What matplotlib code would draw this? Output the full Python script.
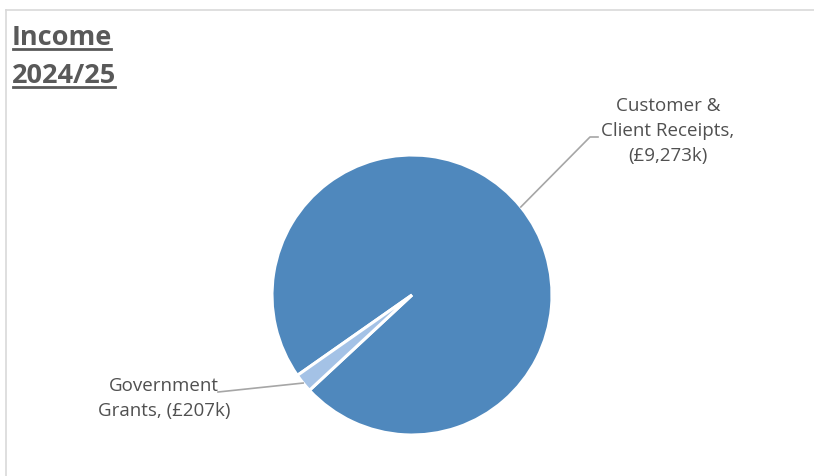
import numpy as np
import matplotlib
matplotlib.use("Agg")
import matplotlib.pyplot as plt
from matplotlib.lines import Line2D

# ---- data ----
categories = ["Customer &\nClient Receipts,", "Government\nGrants,"]
values = [9273, 207]          # £k
value_labels = ["(£9,273k)", "(£207k)"]
colors = ["#4F88BD", "#A4C2E6"]
title_lines = ["Income", "2024/25"]

W, H = 814, 477
fig = plt.figure(figsize=(W / 100, H / 100), dpi=100)
ax = fig.add_axes([0, 0, 1, 1])

cx, cy, r = 412, 181, 140
startangle = 222.9
wedges, _ = ax.pie(values, colors=colors, center=(cx, cy), radius=r,
                   startangle=startangle, counterclock=True,
                   wedgeprops=dict(edgecolor="white", linewidth=2.2))
ax.set_xlim(0, W)
ax.set_ylim(0, H)
ax.set_aspect("equal")
ax.axis("off")

font = "Open Sans"
tc = "#505050"
lc = "#A6A6A6"

# Customer label
w = wedges[0]
mid = np.deg2rad((w.theta1 + w.theta2) / 2)
px, py = cx + r * np.cos(mid), cy + r * np.sin(mid)
ax.add_line(Line2D([px, 590, 598], [py, 339, 339], color=lc, lw=1.2))
ax.text(668, 346, categories[0] + "\n" + value_labels[0], ha="center", va="center",
        fontsize=13.5, color=tc, family=font, linespacing=1.5)

# Government label
w = wedges[1]
mid = np.deg2rad((w.theta1 + w.theta2) / 2)
px, py = cx + r * np.cos(mid), cy + r * np.sin(mid)
ax.add_line(Line2D([px, 218], [py, 84], color=lc, lw=1.2))
gl = categories[1].split("\n")
ax.text(164, 78, gl[0] + "\n" + gl[1] + " " + value_labels[1], ha="center", va="center",
        fontsize=13.5, color=tc, family=font, linespacing=1.5)

# frame
ax.add_line(Line2D([6, W], [466, 466], color="#D9D9D9", lw=1.2))
ax.add_line(Line2D([6, 6], [0, 466], color="#D9D9D9", lw=1.2))

# title with underline
fig.canvas.draw()
renderer = fig.canvas.get_renderer()
baselines = [432, 394]
inv = ax.transData.inverted()
for line, base in zip(title_lines, baselines):
    t = ax.text(12, base, line, ha="left", va="baseline", fontsize=19.5,
                fontweight="bold", color="#595959", family=font)
    bb = t.get_window_extent(renderer)
    x0 = inv.transform((bb.x0, 0))[0]
    x1 = inv.transform((bb.x1, 0))[0]
    ax.add_line(Line2D([x0 + 1, x1 - 1], [base - 5, base - 5], color="#595959", lw=2))

fig.savefig("out.png", dpi=100)
